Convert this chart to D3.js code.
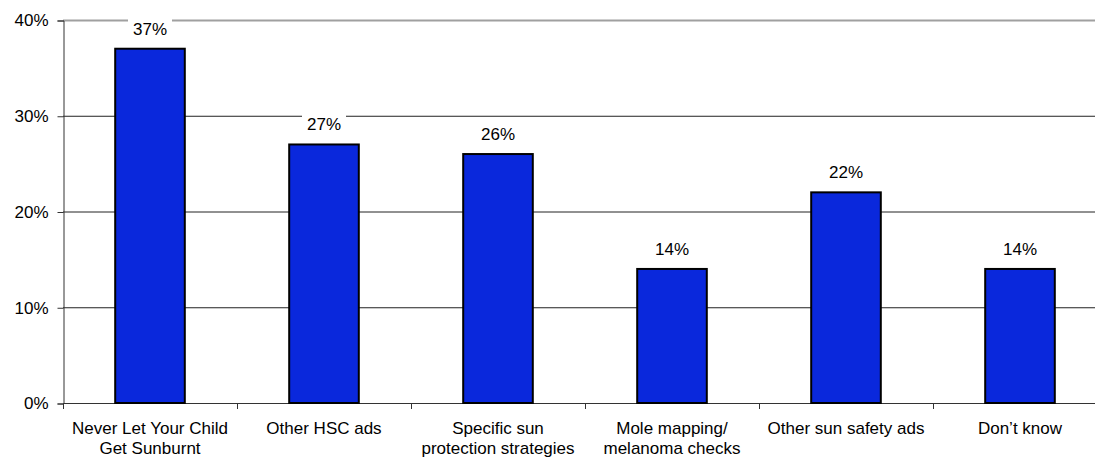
<!DOCTYPE html>
<html>
<head>
<meta charset="utf-8">
<script src="https://cdn.jsdelivr.net/npm/d3@7"></script>
<style>
  body { margin: 0; background: #fff; }
  svg { display: block; font-family: "Liberation Sans", Arial, sans-serif; }
</style>
</head>
<body>
<div id="chart"></div>
<script>
// chart data
var categories = [
    ["Never Let Your Child", "Get Sunburnt"],
    ["Other HSC ads"],
    ["Specific sun", "protection strategies"],
    ["Mole mapping/", "melanoma checks"],
    ["Other sun safety ads"],
    ["Don\u2019t know"]
];
var values = [37, 27, 26, 14, 22, 14];
var yTicks = [0, 10, 20, 30, 40];

var width = 1095, height = 457;
var plotLeft = 63, plotTop = 20, plotBottom = 403;
var step = 174;
var fontSize = 17;

var svg = d3.select("#chart").append("svg")
    .attr("width", width)
    .attr("height", height);

var xScale = d3.scaleBand()
    .domain(d3.range(categories.length))
    .range([plotLeft, plotLeft + step * categories.length])
    .paddingInner(0.6)
    .paddingOuter(0.3);

var yScale = d3.scaleLinear().domain([0, 40]).range([plotBottom, plotTop]);

// gridlines
svg.append("g").selectAll("line")
    .data(yTicks.filter(d => d > 0))
    .enter().append("line")
    .attr("x1", plotLeft)
    .attr("x2", width)
    .attr("y1", d => yScale(d) + 0.5)
    .attr("y2", d => yScale(d) + 0.5)
    .attr("stroke", d => d == 40 ? "#a0a0a0" : "#222")
    .attr("stroke-width", d => d == 40 ? 2 : 1);

// y axis
var yAxis = svg.append("g")
    .attr("transform", "translate(" + (plotLeft + 0.5) + ",0.5)")
    .call(d3.axisLeft(yScale).tickValues(yTicks).tickSize(6).tickPadding(9)
        .tickFormat(d => d + "%"));
yAxis.select(".domain").attr("stroke", "#333");
yAxis.selectAll(".tick line").attr("stroke", "#333");
yAxis.selectAll("text")
    .attr("font-family", "Liberation Sans, Arial, sans-serif")
    .attr("font-size", fontSize)
    .attr("fill", "#000");

// x axis: ticks at category boundaries
var boundaries = d3.range(categories.length + 1).map(i => plotLeft + step * i);
svg.append("line")
    .attr("x1", plotLeft).attr("x2", width)
    .attr("y1", plotBottom + 0.5).attr("y2", plotBottom + 0.5)
    .attr("stroke", "#333");
svg.append("g").selectAll("line")
    .data(boundaries)
    .enter().append("line")
    .attr("x1", d => d + 0.5).attr("x2", d => d + 0.5)
    .attr("y1", plotBottom).attr("y2", plotBottom + 6)
    .attr("stroke", "#333");

// bars
svg.append("g").selectAll("rect")
    .data(values)
    .enter().append("rect")
    .attr("x", (d, i) => xScale(i))
    .attr("y", d => yScale(d))
    .attr("width", xScale.bandwidth())
    .attr("height", d => plotBottom - yScale(d))
    .attr("fill", "#0a28dc")
    .attr("stroke", "#000")
    .attr("stroke-width", 2);

// value labels with white background
var labels = svg.append("g").selectAll("g")
    .data(values)
    .enter().append("g")
    .attr("transform", (d, i) => "translate(" + (xScale(i) + xScale.bandwidth() / 2) + "," + (yScale(d) - 20) + ")");
labels.append("rect")
    .attr("x", -22).attr("y", -10)
    .attr("width", 44).attr("height", 20)
    .attr("fill", "#fff");
labels.append("text")
    .text(d => d + "%")
    .attr("text-anchor", "middle")
    .attr("dy", "0.35em")
    .attr("font-size", fontSize);

// category labels
var catLabels = svg.append("g").selectAll("text")
    .data(categories)
    .enter().append("text")
    .attr("text-anchor", "middle")
    .attr("font-size", fontSize)
    .attr("x", (d, i) => xScale(i) + xScale.bandwidth() / 2)
    .attr("y", 434);
catLabels.selectAll("tspan")
    .data(d => d)
    .enter().append("tspan")
    .attr("x", function () { return this.parentNode.getAttribute("x"); })
    .attr("dy", (d, i) => i == 0 ? 0 : 20)
    .text(d => d);
</script>
</body>
</html>
